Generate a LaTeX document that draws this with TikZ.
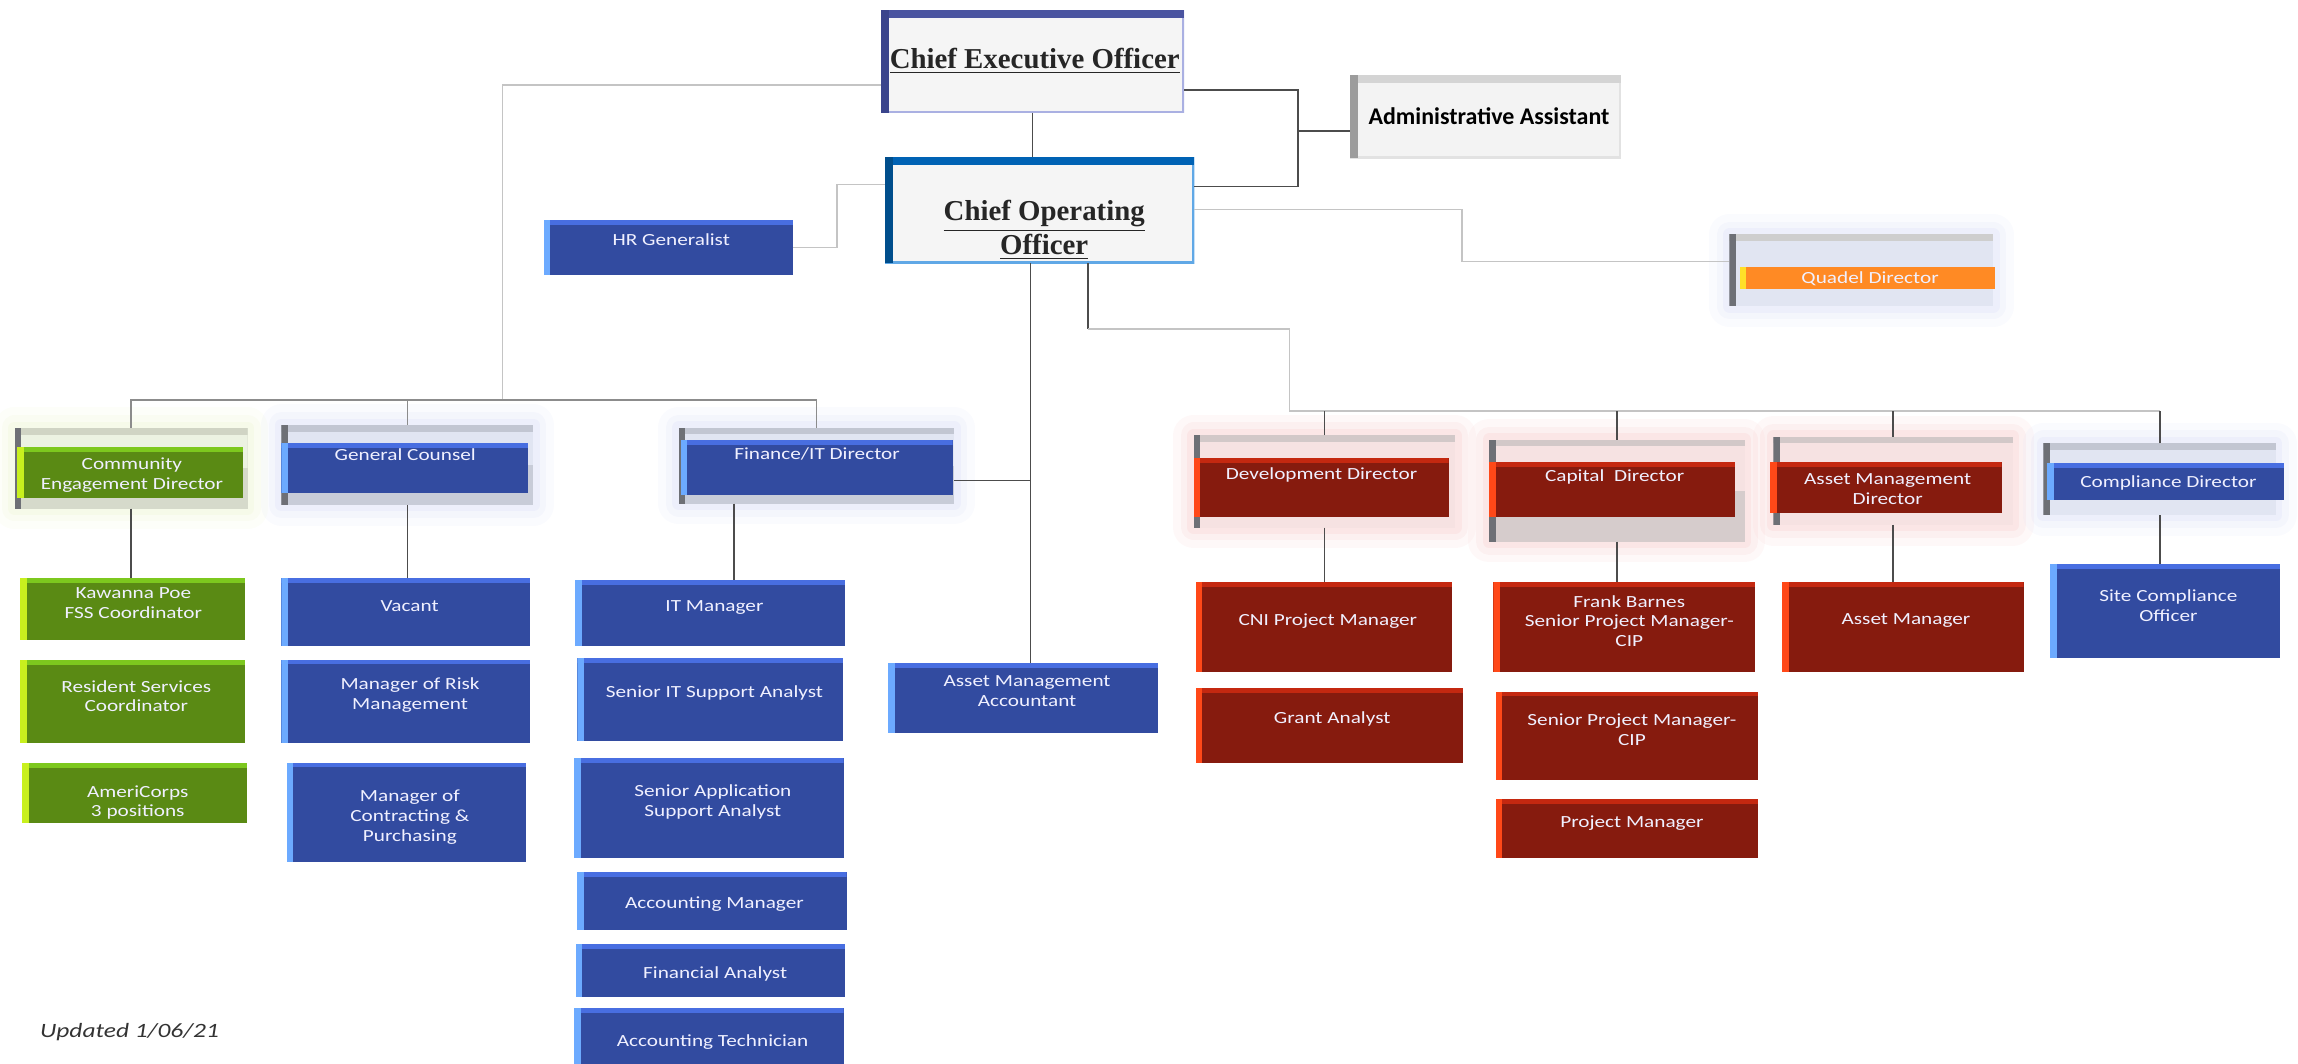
\documentclass[tikz,border=0pt]{standalone}
\usepackage{fontspec}
\setmainfont{Liberation Serif}
\newfontfamily\calib[FakeStretch=1.25]{Carlito}
\newfontfamily\calibplain{Carlito}
\usetikzlibrary{fit}

\definecolor{bluefc}{RGB}{50,75,160}
\definecolor{bluetop}{RGB}{72,110,225}
\definecolor{blueleft}{RGB}{108,170,255}
\definecolor{greenfc}{RGB}{90,138,20}
\definecolor{greentop}{RGB}{125,200,30}
\definecolor{greenleft}{RGB}{200,240,30}
\definecolor{redfc}{RGB}{134,27,14}
\definecolor{redtop}{RGB}{196,40,16}
\definecolor{redleft}{RGB}{255,72,24}
\definecolor{orangefc}{RGB}{255,138,36}
\definecolor{orangeleft}{RGB}{255,224,40}
\definecolor{bkblue}{RGB}{225,229,242}
\definecolor{bkbluedk}{RGB}{200,204,216}
\definecolor{bkbluetop}{RGB}{194,198,210}
\definecolor{bkgreen}{RGB}{236,242,226}
\definecolor{bkgreendk}{RGB}{214,218,203}
\definecolor{bkgreentop}{RGB}{208,212,196}
\definecolor{bkred}{RGB}{246,226,226}
\definecolor{bkreddk}{RGB}{214,204,204}
\definecolor{bkredtop}{RGB}{210,200,200}
\definecolor{bkgray}{RGB}{206,206,206}
\definecolor{bkside}{RGB}{110,112,118}
\definecolor{paper}{RGB}{245,245,245}
\definecolor{ceotop}{RGB}{74,84,160}
\definecolor{ceoside}{RGB}{58,68,140}
\definecolor{ceoedge}{RGB}{170,176,226}
\definecolor{cootop}{RGB}{0,98,180}
\definecolor{cooside}{RGB}{0,78,140}
\definecolor{cooedge}{RGB}{96,168,230}
\definecolor{admfc}{RGB}{243,243,243}
\definecolor{admtop}{RGB}{212,212,212}
\definecolor{admside}{RGB}{156,156,156}
\definecolor{admedge}{RGB}{226,226,226}
\definecolor{linedk}{RGB}{76,76,76}
\definecolor{linemd}{RGB}{140,140,140}
\definecolor{linelt}{RGB}{196,196,196}
\definecolor{glowred}{RGB}{244,190,190}
\definecolor{glowblue}{RGB}{208,214,244}
\definecolor{glowgreen}{RGB}{232,242,196}

\tikzset{
  box/.style={inner sep=0pt, outer sep=0pt, draw=none},
  staff/.style n args={3}{box, fill=#1,
    path picture={
      \fill[#2] (path picture bounding box.north west) rectangle ([yshift=-1.9pt]path picture bounding box.north east);
      \fill[#3] (path picture bounding box.north west) rectangle ([xshift=2.6pt]path picture bounding box.south west);
    }},
  bluebox/.style={staff={bluefc}{bluetop}{blueleft}},
  greenbox/.style={staff={greenfc}{greentop}{greenleft}},
  redbox/.style={staff={redfc}{redtop}{redleft}},
  orangebox/.style={staff={orangefc}{orangefc}{orangeleft}},
  backing/.style n args={4}{box, fill=#1,
    path picture={
      \fill[#2] (path picture bounding box.north west) rectangle (path picture bounding box.east);
      \fill[#3] (path picture bounding box.north west) rectangle ([yshift=-2.6pt]path picture bounding box.north east);
      \fill[#4] (path picture bounding box.north west) rectangle ([xshift=2.6pt]path picture bounding box.south west);
    }},
  glow/.style={preaction={draw=#1, line width=16pt, draw opacity=.1, line join=round},
               preaction={draw=#1, line width=10pt, draw opacity=.14, line join=round},
               preaction={draw=#1, line width=5pt, draw opacity=.2, line join=round}},
  headbox/.style n args={4}{box, fill=#1,
    path picture={
      \draw[#4, line width=1.6pt] (path picture bounding box.north east) -- (path picture bounding box.south east) -- (path picture bounding box.south west);
      \fill[#2] (path picture bounding box.north west) rectangle ([yshift=-3.2pt]path picture bounding box.north east);
      \fill[#3] (path picture bounding box.north west) rectangle ([xshift=3pt]path picture bounding box.south west);
    }},
  txt/.style={inner sep=0pt, align=center, text=white!94!blue, font=\calib\fontsize{6.6}{7.7}\selectfont},
  headtxt/.style={inner sep=0pt, align=center, text=black!85, font=\bfseries\fontsize{11.2}{11.6}\selectfont},
  link/.style={draw=linedk, line width=.6pt},
  midlink/.style={draw=linemd, line width=.6pt},
  faintlink/.style={draw=linelt, line width=.6pt},
}

% name, style, x1, y1, x2, y2, text x, text y, text
\newcommand{\orgbox}[9]{%
  \node[#2, fit={(#3,#4) (#5,#6)}] (#1) {};
  \node[txt] (#1-t) at (#7,#8) {#9};
}

\begin{document}
\begin{tikzpicture}[x=0.02cm,y=-0.02cm]
  \useasboundingbox (0,0) rectangle (1568,726);

  % top
  \node[headbox={paper}{ceotop}{ceoside}{ceoedge}, fit={(601,7) (808,77)}] (ceo) {};
  \node[headtxt] (ceo-t) at (706,42) {\underline{Chief Executive Officer}};
  \node[headbox={paper}{cootop}{cooside}{cooedge}, fit={(604,107) (815,179.5)}] (coo) {};
  \node[headtxt] (coo-t) at (712.5,157) {\underline{Chief Operating}\\\underline{Officer}};
  \node[headbox={admfc}{admtop}{admside}{admedge}, fit={(921,51) (1106,108)}] (adm) {};
  \node[inner sep=0pt, font=\calibplain\bfseries\fontsize{9.3}{10}\selectfont] (adm-t) at (1016,79.6) {Administrative Assistant};
  \orgbox{hr}{bluebox}{371}{150}{541}{187.6}{458}{163.8}{HR Generalist}
  \node[backing={bkblue}{bkblue}{bkgray}{bkside}, glow=glowblue, fit={(1180,160) (1360,209)}] (qd) {};
  \orgbox{qd-bar}{orangebox}{1187}{182}{1361.5}{197.4}{1276}{190}{Quadel Director}

  % directors
  \node[backing={bkgreendk}{bkgreen}{bkgreentop}{bkside}, glow=glowgreen, fit={(10,292) (169,347)}] (ced) {};
  \orgbox{ced-bar}{greenbox}{11.5}{305}{166}{339.6}{90}{324}{Community\\Engagement Director}
  \node[backing={bkbluedk}{bkblue}{bkbluetop}{bkside}, glow=glowblue, fit={(192,290) (364,344.6)}] (gc) {};
  \orgbox{gc-bar}{bluebox}{192}{302.5}{360.5}{336.6}{276.5}{310.5}{General Counsel}
  \node[backing={bkbluedk}{bkblue}{bkbluetop}{bkside}, glow=glowblue, fit={(463,291.7) (651,343.7)}] (fin) {};
  \orgbox{fin-bar}{bluebox}{464.5}{300.3}{650}{337.8}{557.5}{310}{Finance/IT Director}
  \node[backing={bkred}{bkred}{bkredtop}{bkside}, glow=glowred, fit={(814.5,297) (993,360)}] (dev) {};
  \orgbox{dev-bar}{redbox}{814.5}{312.7}{988.5}{352.7}{901.7}{324.1}{Development Director}
  \node[backing={bkreddk}{bkred}{bkredtop}{bkside}, glow=glowred, fit={(1016,300) (1190.5,369.6)}] (cap) {};
  \orgbox{cap-bar}{redbox}{1016}{315}{1184}{352.5}{1101.7}{325.2}{Capital\ \ Director}
  \node[backing={bkred}{bkred}{bkredtop}{bkside}, glow=glowred, fit={(1210,298) (1373.5,358.2)}] (amd) {};
  \orgbox{amd-bar}{redbox}{1207.7}{315}{1365.7}{350.2}{1288}{333.9}{Asset Management\\Director}
  \node[backing={bkblue}{bkblue}{bkbluetop}{bkside}, glow=glowblue, fit={(1394.3,302.5) (1553,351.4)}] (cmp) {};
  \orgbox{cmp-bar}{bluebox}{1396.7}{316}{1558.5}{341.2}{1479.6}{329.3}{Compliance Director}

  % community engagement staff
  \orgbox{kp}{greenbox}{13.6}{394.6}{167.2}{436.7}{91}{411.5}{Kawanna Poe\\FSS Coordinator}
  \orgbox{rs}{greenbox}{13.6}{450.3}{167.2}{507}{93}{475}{Resident Services\\Coordinator}
  \orgbox{ac}{greenbox}{15}{520.6}{168.5}{561.5}{94}{547.6}{AmeriCorps\\3 positions}

  % general counsel staff
  \orgbox{vac}{bluebox}{192}{394.6}{361.7}{441}{279.5}{413.5}{Vacant}
  \orgbox{risk}{bluebox}{192}{450}{361.7}{507}{279.8}{474}{Manager of Risk\\Management}
  \orgbox{con}{bluebox}{195.5}{520.3}{359}{588}{279.7}{557.4}{Manager of\\Contracting \&\\Purchasing}

  % finance staff
  \orgbox{itm}{bluebox}{392.3}{395.8}{576.8}{440.6}{487.5}{414.6}{IT Manager}
  \orgbox{sits}{bluebox}{394}{449.3}{575.5}{505.6}{487.5}{473}{Senior IT Support Analyst}
  \orgbox{saa}{bluebox}{391.7}{517.2}{575.7}{585.2}{486.4}{547.2}{Senior Application\\Support Analyst}
  \orgbox{acm}{bluebox}{393.7}{595.3}{577.7}{634.3}{487.5}{616.8}{Accounting Manager}
  \orgbox{fa}{bluebox}{392.8}{644.4}{576.8}{680.6}{488}{664.6}{Financial Analyst}
  \orgbox{act}{bluebox}{391.7}{687.8}{575.7}{726}{486.2}{711}{Accounting Technician}
  \orgbox{ama}{bluebox}{606}{452.2}{790}{499.9}{700.8}{471.5}{Asset Management\\Accountant}

  % development, capital, asset management, compliance staff
  \orgbox{cni}{redbox}{815.8}{396.9}{990.8}{458.3}{906}{423.5}{CNI Project Manager}
  \orgbox{ga}{redbox}{815.8}{469.7}{998.4}{520.8}{909}{490.8}{Grant Analyst}
  \orgbox{fb}{redbox}{1019}{396.9}{1197.5}{458.3}{1111.7}{423.8}{Frank Barnes\\Senior Project Manager-\\CIP}
  \orgbox{spm}{redbox}{1020.5}{471.9}{1199.4}{532.2}{1113.5}{498.1}{Senior Project Manager-\\CIP}
  \orgbox{pm}{redbox}{1020.5}{545.4}{1199.4}{585.6}{1113.5}{561.8}{Project Manager}
  \orgbox{am}{redbox}{1216}{396.9}{1380.8}{458.3}{1300.5}{423.5}{Asset Manager}
  \orgbox{sco}{bluebox}{1398.8}{385}{1555.7}{449.2}{1479.6}{413.2}{Site Compliance\\Officer}

  \node[anchor=west, inner sep=0pt, text=black!80, font=\calib\itshape\fontsize{7.9}{9}\selectfont] (upd) at (27,704) {Updated 1/06/21};

  % CEO, COO and administrative assistant
  \draw[link] (ceo.south) -- (ceo.south |- coo.north);
  \coordinate (adm-a) at (885.7,61.4);
  \coordinate (adm-b) at (885.7,127.4);
  \coordinate (adm-j) at (885.7,89.4);
  \draw[link] (ceo.east |- adm-a) -- (adm-a) -- (adm-b) -- (coo.east |- adm-b);
  \draw[link] (adm-j) -- (adm.west |- adm-j);

  \coordinate (hr-j) at (571,126);
  \draw[faintlink] (hr.east) -| (hr-j) -- (coo.west |- hr-j);

  \coordinate (qd-a) at (997.6,142.8);
  \coordinate (qd-b) at (997.6,178.5);
  \draw[faintlink] (coo.east |- qd-a) -- (qd-a) -- (qd-b) -- (qd.west |- qd-b);

  % left group
  \coordinate (ceo-l) at (343,58);
  \coordinate (lbus) at (343,273);
  \draw[faintlink] (ceo.west |- ceo-l) -- (ceo-l) -- (lbus);
  \draw[midlink] (ced.north) |- (lbus) -| (fin.north);
  \draw[midlink] (gc.north) -- (gc.north |- lbus);

  \coordinate (ama-j) at (703,327.9);
  \draw[link] (coo.south -| ama-j) -- (ama-j) -- (ama.north -| ama-j);
  \draw[link] (fin.east |- ama-j) -- (ama-j);

  % right group
  \coordinate (rb-a) at (742.5,224.5);
  \coordinate (rbus) at (880,280.4);
  \draw[link] (coo.south -| rb-a) -- (rb-a);
  \draw[faintlink] (rb-a) -| (rbus) -- (cmp.north |- rbus);
  \draw[link] (dev.north) -- (dev.north |- rbus);
  \draw[link] (cap.north) -- (cap.north |- rbus);
  \draw[link] (amd.north) -- (amd.north |- rbus);
  \draw[link] (cmp.north) -- (cmp.north |- rbus);

  % directors to staff
  \draw[link] (ced.south) -- (ced.south |- kp.north);
  \draw[link] (gc.south) -- (gc.south |- vac.north);
  \coordinate (itm-j) at (501,370);
  \draw[link] (fin.south -| itm-j) -- (itm.north -| itm-j);
  \draw[link] (dev.south) -- (dev.south |- cni.north);
  \draw[link] (cap.south) -- (cap.south |- fb.north);
  \draw[link] (amd.south) -- (amd.south |- am.north);
  \draw[link] (cmp.south) -- (cmp.south |- sco.north);
\end{tikzpicture}
\end{document}
